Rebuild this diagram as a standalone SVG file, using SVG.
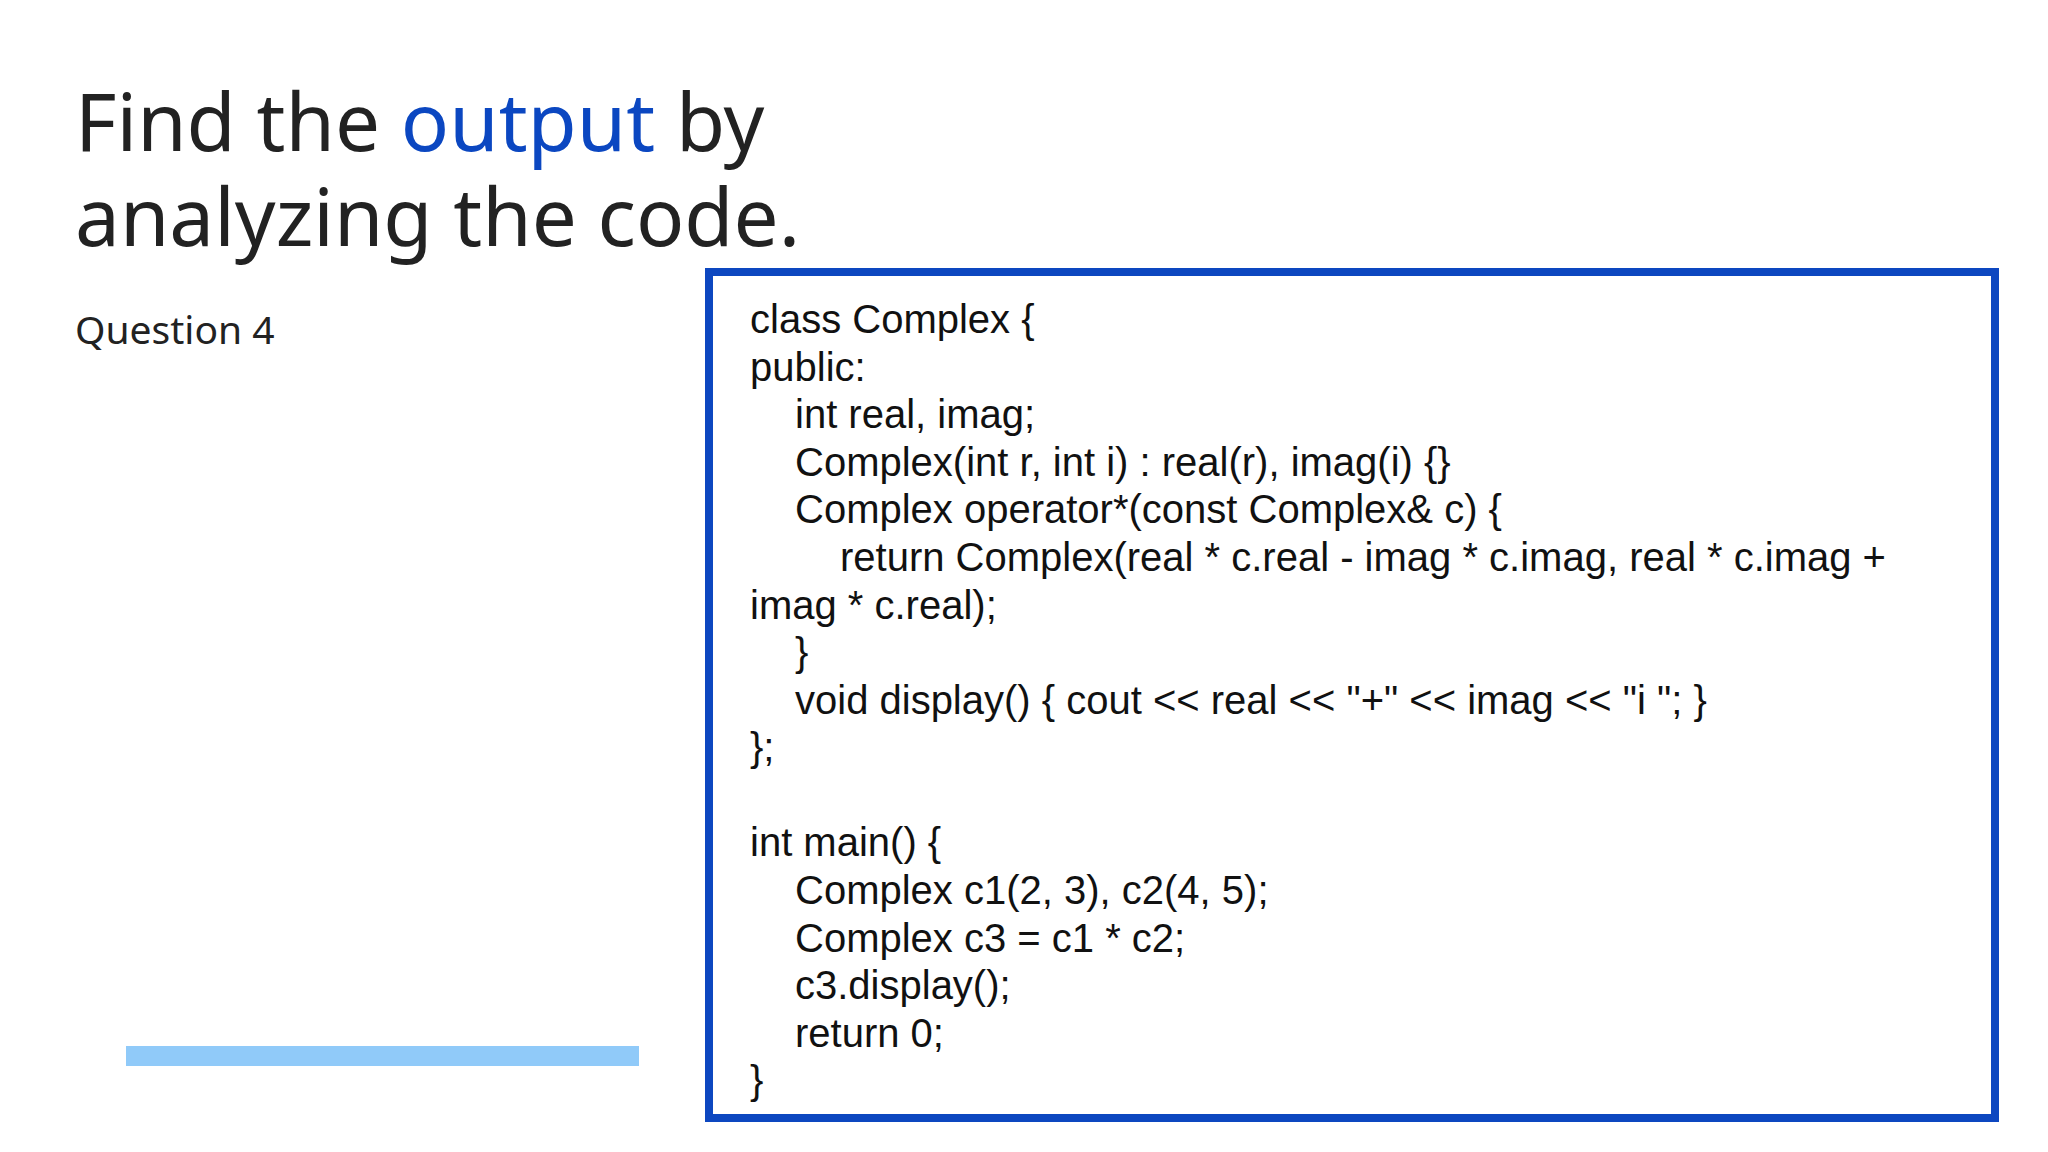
<svg xmlns="http://www.w3.org/2000/svg" width="2048" height="1152" viewBox="0 0 2048 1152">
<style>
.t{font-family:"Noto Sans","Open Sans",sans-serif;fill:#222}
.c{font-family:"Liberation Sans",Arial,sans-serif;font-size:40px;fill:#111}
</style>
<rect width="2048" height="1152" fill="#fff"/>
<g id="title">
<text class="t" x="75" y="151" font-size="80">Find the <tspan fill="#0b47c1">output</tspan> by</text>
<text class="t" x="75" y="246" font-size="80">analyzing the code.</text>
</g>
<g id="question"><text class="t" x="75" y="344" font-size="39">Question 4</text></g>
<rect id="bar" x="126" y="1046" width="513" height="20" fill="#90caf9"/>
<g id="code">
<rect x="709" y="272" width="1286" height="846" fill="none" stroke="#0d47c0" stroke-width="8"/>
<text class="c" x="750" y="333">class Complex {</text>
<text class="c" x="750" y="381">public:</text>
<text class="c" x="795" y="428">int real, imag;</text>
<text class="c" x="795" y="476">Complex(int r, int i) : real(r), imag(i) {}</text>
<text class="c" x="795" y="523">Complex operator*(const Complex&amp; c) {</text>
<text class="c" x="840" y="571">return Complex(real * c.real - imag * c.imag, real * c.imag +</text>
<text class="c" x="750" y="619">imag * c.real);</text>
<text class="c" x="795" y="666">}</text>
<text class="c" x="795" y="714">void display() { cout &lt;&lt; real &lt;&lt; "+" &lt;&lt; imag &lt;&lt; "i "; }</text>
<text class="c" x="750" y="761">};</text>
<text class="c" x="750" y="856">int main() {</text>
<text class="c" x="795" y="904">Complex c1(2, 3), c2(4, 5);</text>
<text class="c" x="795" y="952">Complex c3 = c1 * c2;</text>
<text class="c" x="795" y="999">c3.display();</text>
<text class="c" x="795" y="1047">return 0;</text>
<text class="c" x="750" y="1094">}</text>
</g>
</svg>
